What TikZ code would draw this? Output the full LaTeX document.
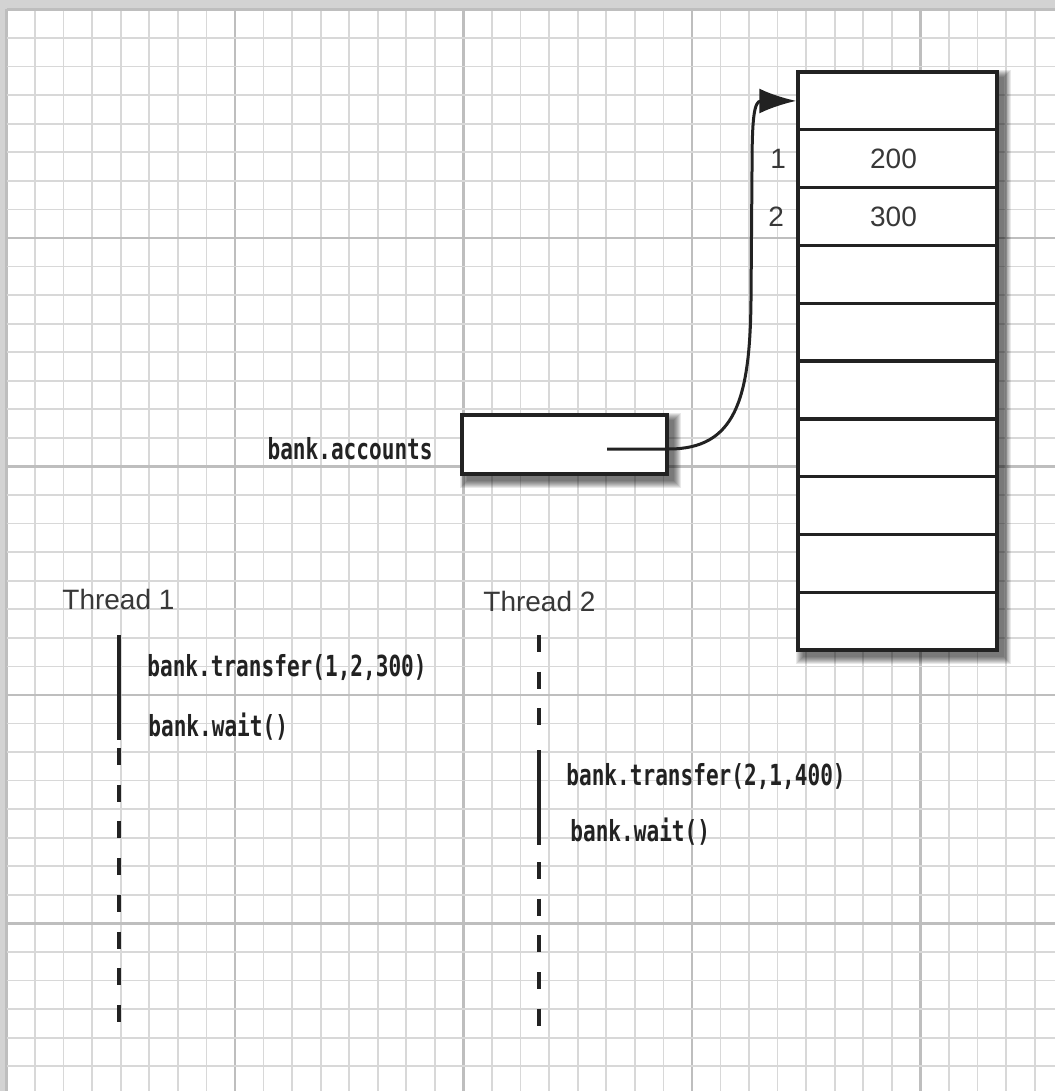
\documentclass[tikz,border=0pt]{standalone}
\usepackage{fontspec}
\setmainfont{Liberation Sans}
\newfontfamily\codefont[FakeStretch=0.727]{DejaVu Sans Mono}
\usepackage{tikz}
\usetikzlibrary{arrows.meta}
\usetikzlibrary{positioning}

\definecolor{paperframe}{HTML}{D3D3D3}
\definecolor{gridminor}{HTML}{D8D8D8}
\definecolor{gridmajor}{HTML}{BEBEBE}
\definecolor{ink}{HTML}{222222}

\tikzset{
  minorline/.style={color=gridminor, line width=0.85pt},
  majorline/.style={color=gridmajor, line width=1.2pt},
  cell/.style={draw=ink, line width=1.7pt, fill=white, inner sep=0pt,
    minimum width=99.5pt, minimum height=28.9pt,
    font=\fontsize{14}{16}\selectfont, text=ink!90},
  idx/.style={inner sep=0pt, font=\fontsize{14}{16}\selectfont, text=ink!90},
  code/.style={inner sep=0pt, font=\codefont\bfseries\fontsize{14.5}{16}\selectfont, text=ink},
  threadname/.style={inner sep=0pt, anchor=west, font=\fontsize{14}{16}\selectfont, text=ink!90},
  timeline/.style={draw=ink, line width=2pt},
  waitline/.style={timeline, dash pattern=on 8.5pt off 9.85pt},
  ptrline/.style={draw=ink, line width=1.5pt}
}

\begin{document}
\begin{tikzpicture}[x=0.5pt,y=-0.5pt]
\useasboundingbox (0,0) rectangle (1055,1091);

% Paper with grid
\fill[paperframe] (0,0) rectangle (1055,1091);
\fill[white] (6.5,9.5) rectangle (1055,1091);
\foreach \k in {0,...,36} {
  \pgfmathtruncatemacro{\m}{mod(\k,8)}
  \ifnum\m=0
    \draw[majorline] ({6.5+28.56*\k},9.5) -- ({6.5+28.56*\k},1091);
  \else
    \draw[minorline] ({6.5+28.56*\k},9.5) -- ({6.5+28.56*\k},1091);
  \fi
}
\foreach \k in {0,...,37} {
  \pgfmathtruncatemacro{\m}{mod(\k,8)}
  \ifnum\m=0
    \draw[majorline] (6.5,{9.5+28.56*\k}) -- (1055,{9.5+28.56*\k});
  \else
    \draw[minorline] (6.5,{9.5+28.56*\k}) -- (1055,{9.5+28.56*\k});
  \fi
}

% Soft shadows under the boxes
\foreach \b in {1,...,8} {
  \fill[black, opacity=0.085] (804-\b,78-\b) rectangle (1003+\b,656+\b);
  \fill[black, opacity=0.085] (468-\b,421-\b) rectangle (673+\b,480+\b);
}

% Array of accounts
\foreach \i in {0,...,9}
  \node[cell] (row\i) at (897.5,{100.9+57.8*\i}) {};
\node[idx] at ([xshift=-2pt]row1.center) {200};
\node[idx] at ([xshift=-2pt]row2.center) {300};
\node[idx, left=5pt of row1.west] (idx1) {1};
\node[idx, left=6pt of row2.west] (idx2) {2};

% Reference to the array
\node[cell, minimum width=102.5pt, minimum height=29.5pt] (accbox) at (564.5,444.5) {};
\node[code, anchor=east] (acclabel) at (433,449) {bank.accounts};
\coordinate (ptr) at (607,449);
\draw[ptrline, -{Latex[length=18.5pt,width=12.5pt]}] (ptr) -- (accbox.east |- ptr)
  .. controls (735,449) and (750,400) .. (751,300) -- (752,170)
  .. controls (752,118) and (754,101) .. (761,101) -- (row0.west);

% Thread 1
\node[threadname] (thread1) at (62,599) {Thread 1};
\coordinate (t1a) at (119,635);
\coordinate (t1b) at (119,740);
\coordinate (t1c) at (119,748);
\coordinate (t1d) at (119,1022);
\draw[timeline] (t1a) -- (t1b);
\draw[waitline] (t1c) -- (t1d);
\node[code, anchor=west] (transfer1) at (147,668) {bank.transfer(1,2,300)};
\node[code, anchor=west] (wait1) at (148,727) {bank.wait()};

% Thread 2
\node[threadname] (thread2) at (483,601) {Thread 2};
\coordinate (t2a) at (539,635);
\coordinate (t2b) at (539,726);
\coordinate (t2c) at (539,750);
\coordinate (t2d) at (539,845);
\coordinate (t2e) at (539,862);
\coordinate (t2f) at (539,1026);
\draw[waitline] (t2a) -- (t2b);
\draw[timeline] (t2c) -- (t2d);
\draw[waitline] (t2e) -- (t2f);
\node[code, anchor=west] (transfer2) at (566,777) {bank.transfer(2,1,400)};
\node[code, anchor=west] (wait2) at (570,832) {bank.wait()};

\end{tikzpicture}
\end{document}
